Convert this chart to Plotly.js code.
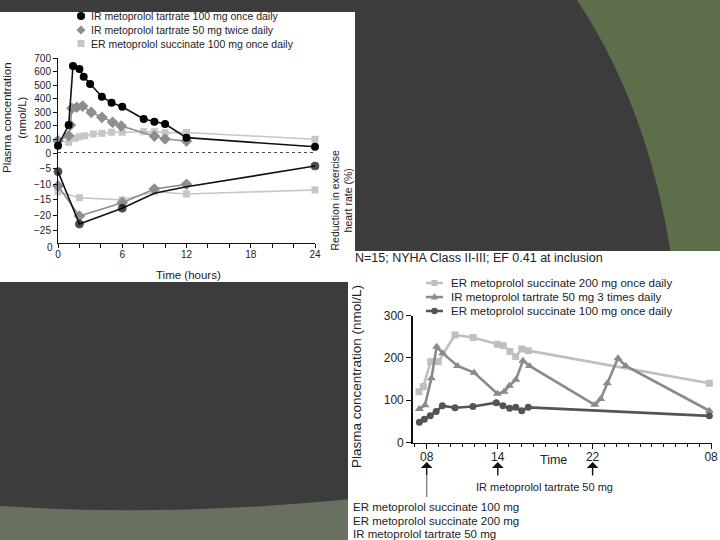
<!DOCTYPE html>
<html><head><meta charset="utf-8">
<script src="https://cdn.plot.ly/plotly-3.0.1.min.js"></script>
<style>html,body{margin:0;padding:0;background:#3c3c3c;overflow:hidden}#chart{width:720px;height:540px}</style>
</head><body><div id="chart"></div>
<script>
// ---------- Panel A: single day, plasma concentration (top) and HR reduction (bottom)
const irOnceTime = [0, 1, 1.4, 2, 2.4, 3, 4.1, 5, 6, 8, 9, 10, 12, 24];
const irOnceConc = [54, 206, 641, 619, 562, 508, 415, 371, 341, 251, 231, 214, 113, 46];
const irTwiceTime = [0, 1, 1.15, 1.3, 1.75, 2.3, 3.1, 4.1, 5.1, 5.9, 9, 10, 12];
const irTwiceConc = [90, 127, 206, 329, 337, 346, 300, 263, 226, 199, 125, 103, 88];
const erOnceTime = [0, 1, 1.6, 2, 2.5, 3.3, 4.1, 5, 6, 8, 9, 10, 12, 24];
const erOnceConc = [92, 79, 108, 120, 127, 140, 145, 153, 153, 157, 157, 150, 151, 101];

const irOnceHrTime = [0, 2, 6, 9, 12, 24];
const irOnceHr = [-6.0, -22.9, -17.8, -13.0, -10.9, -4.2];
const irTwiceHrTime = [0, 2, 6, 9, 12];
const irTwiceHr = [-10.6, -20.3, -16.0, -11.6, -10.1];
const erOnceHrTime = [0, 2, 6, 9, 12, 24];
const erOnceHr = [-12.5, -14.4, -15.1, -12.5, -13.2, -11.9];

const hourTicks = [0, 6, 12, 18, 24];
const concTicks = [0, 100, 200, 300, 400, 500, 600, 700];
const hrTicks = [-25, -20, -15, -10, -5];
const legendA = ['IR metoprolol tartrate 100 mg once daily', 'IR metoprolol tartrate 50 mg twice daily', 'ER metoprolol succinate 100 mg once daily'];

// ---------- Panel B: 24 h profile (clock time, hours from midnight of day 1)
const er200Time = [7.35, 7.71, 8.34, 8.98, 10.39, 11.93, 13.96, 14.46, 15.03, 15.51, 16.02, 16.57, 31.85];
const er200Conc = [120, 132, 191, 191, 254, 248, 232, 229, 215, 203, 221, 217, 140];
const ir50Time = [7.38, 7.85, 8.4, 8.84, 9.35, 10.6, 12.0, 13.97, 14.53, 14.98, 15.52, 16.12, 16.68, 22.18, 22.68, 23.24, 24.14, 24.8, 31.85];
const ir50Conc = [79, 88, 152, 226, 211, 181, 165, 115, 120, 134, 148, 193, 181, 89, 103, 140, 199, 181, 75];
const er100Time = [7.38, 7.8, 8.3, 8.8, 9.32, 10.39, 11.9, 13.87, 14.44, 15.0, 15.52, 16.02, 16.57, 31.85];
const er100Conc = [48, 55, 63, 73, 87, 82, 85, 94, 87, 81, 83, 75, 83, 63];

const clockTicks = [8, 14, 22, 32];
const clockTickText = ['08', '14', '22', '08'];
const concTicksB = [0, 100, 200, 300];
const legendB = ['ER metoprolol succinate 200 mg once daily', 'IR metoprolol tartrate 50 mg 3 times daily', 'ER metoprolol succinate 100 mg once daily'];
const doseArrowTimes = [8, 14, 22];
const headerB = 'N=15; NYHA Class II-III; EF 0.41 at inclusion';
const doseNote = 'IR metoprolol tartrate 50 mg';
const doseList = ['ER metoprolol succinate 100 mg', 'ER metoprolol succinate 200 mg', 'IR metoprolol tartrate 50 mg'];

// ---------- helpers
const FONT = 'Liberation Sans, Arial, Helvetica, sans-serif';
const W = 720, H = 540;
const px = x => x / W;
const py = y => 1 - y / H;
const C_BLACK = '#111111', C_MID = '#8e8e8e', C_LIGHT = '#c6c6c6';
const B_LIGHT = '#bfbfbf', B_MID = '#8a8a8a', B_DARK = '#545454';

function txt(text, x, y, size, extra) {
  return Object.assign({text: text, x: px(x), y: py(y), xref: 'paper', yref: 'paper', showarrow: false,
    font: {family: FONT, size: size, color: '#222'}, xanchor: 'left', yanchor: 'middle'}, extra || {});
}
function P(pts) { // pixel path -> paper path
  return pts.replace(/(-?[\d.]+),(-?[\d.]+)/g, (m, a, b) => px(+a).toFixed(5) + ',' + py(+b).toFixed(5));
}

const traces = [
  {x: erOnceTime, y: erOnceConc, xaxis: 'x', yaxis: 'y', mode: 'lines+markers', cliponaxis: false,
   line: {color: C_LIGHT, width: 1.6}, marker: {symbol: 'square', size: 7, color: C_LIGHT}},
  {x: irTwiceTime, y: irTwiceConc, xaxis: 'x', yaxis: 'y', mode: 'lines+markers', cliponaxis: false,
   line: {color: C_MID, width: 1.6}, marker: {symbol: 'diamond', size: 9, color: C_MID}},
  {x: irOnceTime, y: irOnceConc, xaxis: 'x', yaxis: 'y', mode: 'lines+markers', cliponaxis: false,
   line: {color: C_BLACK, width: 1.6}, marker: {symbol: 'circle', size: 8, color: '#000'}},
  {x: erOnceHrTime, y: erOnceHr, xaxis: 'x', yaxis: 'y2', mode: 'lines+markers', cliponaxis: false,
   line: {color: C_LIGHT, width: 1.6}, marker: {symbol: 'square', size: 7, color: C_LIGHT}},
  {x: irTwiceHrTime, y: irTwiceHr, xaxis: 'x', yaxis: 'y2', mode: 'lines+markers', cliponaxis: false,
   line: {color: C_MID, width: 1.6}, marker: {symbol: 'diamond', size: 9, color: C_MID}},
  {x: irOnceHrTime, y: irOnceHr, xaxis: 'x', yaxis: 'y2', mode: 'lines+markers', cliponaxis: false,
   line: {color: C_BLACK, width: 1.6}, marker: {symbol: 'circle', size: [8, 8, 8, 0, 0, 8], color: '#000'}},

  {x: er200Time, y: er200Conc, xaxis: 'x2', yaxis: 'y3', mode: 'lines+markers', cliponaxis: false,
   line: {color: B_LIGHT, width: 2.6}, marker: {symbol: 'square', size: 7, color: B_LIGHT}},
  {x: ir50Time, y: ir50Conc, xaxis: 'x2', yaxis: 'y3', mode: 'lines+markers', cliponaxis: false,
   line: {color: B_MID, width: 2.6}, marker: {symbol: 'triangle-up', size: 8, color: B_MID}},
  {x: er100Time, y: er100Conc, xaxis: 'x2', yaxis: 'y3', mode: 'lines+markers', cliponaxis: false,
   line: {color: B_DARK, width: 2.6}, marker: {symbol: 'circle', size: 7, color: B_DARK}}
];

const axisCommon = {showline: true, linecolor: '#111', linewidth: 1, ticks: 'outside', tickcolor: '#111',
  showgrid: false, zeroline: false, fixedrange: true};

const shapes = [
  // slide background decorations
  {type: 'path', xref: 'paper', yref: 'paper', layer: 'below', line: {width: 0}, fillcolor: '#5e6e4a',
   path: P('M577,0 Q650,110 672,262 L720,262 L720,0 Z')},
  {type: 'path', xref: 'paper', yref: 'paper', layer: 'below', line: {width: 0}, fillcolor: '#68715f',
   path: P('M0,506 Q170,517 352,499 L352,540 L0,540 Z')},
  {type: 'rect', xref: 'paper', yref: 'paper', layer: 'below', line: {width: 0}, fillcolor: '#ffffff',
   x0: 0, x1: px(355), y0: py(282), y1: py(12)},
  {type: 'rect', xref: 'paper', yref: 'paper', layer: 'below', line: {width: 0}, fillcolor: '#ffffff',
   x0: px(348), x1: 1, y0: 0, y1: py(251)},
  // zero reference line in panel A
  {type: 'line', xref: 'x', yref: 'y', x0: 0, x1: 24, y0: 0, y1: 0, line: {color: '#111', width: 1.5, dash: 'dot'}},
  // grey guide below first dose arrow
  {type: 'line', xref: 'x2', yref: 'paper', x0: 8, x1: 8, y0: py(497), y1: py(476), line: {color: '#8a8a8a', width: 1.5}}
];

// legend symbols, panel A
const legAY = [16, 30, 43.5];
shapes.push({type: 'circle', xref: 'paper', yref: 'paper', xsizemode: 'pixel', ysizemode: 'pixel',
  xanchor: px(81), yanchor: py(legAY[0]), x0: -4, x1: 4, y0: -4, y1: 4, fillcolor: '#000', line: {width: 0}});
shapes.push({type: 'path', xref: 'paper', yref: 'paper', xsizemode: 'pixel', ysizemode: 'pixel',
  xanchor: px(81), yanchor: py(legAY[1]), path: 'M0,-4.5L4.5,0L0,4.5L-4.5,0Z', fillcolor: C_MID, line: {width: 0}});
shapes.push({type: 'rect', xref: 'paper', yref: 'paper', xsizemode: 'pixel', ysizemode: 'pixel',
  xanchor: px(81), yanchor: py(legAY[2]), x0: -3.5, x1: 3.5, y0: -3.5, y1: 3.5, fillcolor: C_LIGHT, line: {width: 0}});

// legend symbols, panel B
const legBY = [283, 297, 311];
const legBCol = [B_LIGHT, B_MID, B_DARK];
legBY.forEach((y, i) => {
  shapes.push({type: 'line', xref: 'paper', yref: 'paper', x0: px(426), x1: px(443), y0: py(y), y1: py(y),
    line: {color: legBCol[i], width: 2.5}});
});
shapes.push({type: 'rect', xref: 'paper', yref: 'paper', xsizemode: 'pixel', ysizemode: 'pixel',
  xanchor: px(434.5), yanchor: py(legBY[0]), x0: -3, x1: 3, y0: -3, y1: 3, fillcolor: B_LIGHT, line: {width: 0}});
shapes.push({type: 'path', xref: 'paper', yref: 'paper', xsizemode: 'pixel', ysizemode: 'pixel',
  xanchor: px(434.5), yanchor: py(legBY[1]), path: 'M0,4L3.6,-2.5L-3.6,-2.5Z', fillcolor: B_MID, line: {width: 0}});
shapes.push({type: 'circle', xref: 'paper', yref: 'paper', xsizemode: 'pixel', ysizemode: 'pixel',
  xanchor: px(434.5), yanchor: py(legBY[2]), x0: -3.2, x1: 3.2, y0: -3.2, y1: 3.2, fillcolor: B_DARK, line: {width: 0}});

const annotations = [
  txt('Plasma concentration<br>(nmol/L)', 14, 118, 11.5, {textangle: -90, xanchor: 'center'}),
  txt('Reduction in exercise<br>heart rate (%)', 341.5, 200, 10.5, {textangle: -90, xanchor: 'center'}),
  txt('Time (hours)', 188, 275, 11.5, {xanchor: 'center'}),
  txt('0', 50, 247, 10, {xanchor: 'center'}),
  txt(headerB, 353, 257.5, 12.5),
  txt('Plasma concentration (nmol/L)', 356, 377, 13.5, {textangle: -90, xanchor: 'center'}),
  txt('Time', 553, 460, 12.5, {xanchor: 'center'}),
  txt(doseNote, 474, 487, 11)
];
legendA.forEach((t, i) => annotations.push(txt(t, 89, legAY[i], 10.5)));
legendB.forEach((t, i) => annotations.push(txt(t, 449, legBY[i], 11.5)));
doseList.forEach((t, i) => annotations.push(txt(t, 351, 507 + i * 13.5, 11.5)));
doseArrowTimes.forEach(t => annotations.push({text: '', x: t, xref: 'x2', y: py(462), yref: 'paper',
  showarrow: true, ax: 0, ay: 15, arrowhead: 1, arrowsize: 1.4, arrowwidth: 1.4, arrowcolor: '#111'}));

const layout = {
  width: W, height: H, margin: {l: 0, r: 0, t: 0, b: 0},
  paper_bgcolor: '#3c3c3c', plot_bgcolor: 'rgba(0,0,0,0)', showlegend: false,
  font: {family: FONT, color: '#222'},
  xaxis: Object.assign({}, axisCommon, {domain: [px(58), px(315)], range: [0, 24], anchor: 'y2',
    tickmode: 'array', tickvals: hourTicks, ticklen: 4, tickfont: {size: 10}, ticklabelstandoff: -2,
    minor: {tick0: 0, dtick: 2, ticks: 'outside', ticklen: 3.5, tickcolor: '#111'}}),
  yaxis: Object.assign({}, axisCommon, {domain: [py(153), py(58)], range: [0, 700], anchor: 'x',
    tickmode: 'array', tickvals: concTicks, ticklen: 4, tickfont: {size: 10}}),
  yaxis2: Object.assign({}, axisCommon, {domain: [py(243), py(153)], range: [-29, 0], anchor: 'x',
    tickmode: 'array', tickvals: hrTicks, ticklen: 4, tickfont: {size: 10}}),
  xaxis2: Object.assign({}, axisCommon, {domain: [px(412.7), px(711.7)], range: [6.82, 32.05], anchor: 'y3',
    linewidth: 1.5, tickmode: 'array', tickvals: clockTicks, ticktext: clockTickText, ticklen: 5, tickfont: {size: 12},
    ticklabelstandoff: -2,
    minor: {tick0: 0, dtick: 1, ticks: 'outside', ticklen: 3, tickcolor: '#111'}}),
  yaxis3: Object.assign({}, axisCommon, {domain: [py(442.5), py(315.5)], range: [0, 300], anchor: 'x2',
    linewidth: 1.5, tickmode: 'array', tickvals: concTicksB, ticklen: 5, tickfont: {size: 12}}),
  shapes: shapes,
  annotations: annotations
};

Plotly.newPlot('chart', traces, layout, {staticPlot: true, displayModeBar: false});
</script></body></html>
